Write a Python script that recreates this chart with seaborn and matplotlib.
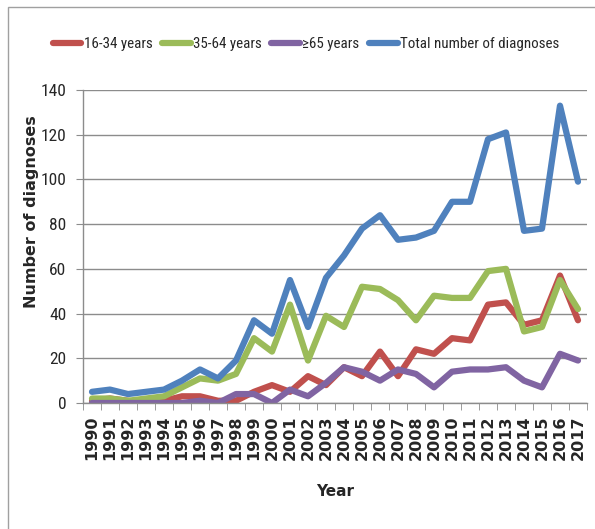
import pandas as pd
import numpy as np
import matplotlib
matplotlib.use("Agg")
import matplotlib.pyplot as plt
import seaborn as sns
from matplotlib.patches import Rectangle

years = list(range(1990, 2018))

age_16_34 = [1, 2, 1, 0, 1, 3, 3, 1, 1, 5, 8, 5, 12, 8, 16, 12, 23, 12, 24, 22, 29, 28, 44, 45, 35, 37, 57, 37]
age_35_64 = [2, 2, 1, 2, 3, 7, 11, 10, 13, 29, 23, 44, 19, 39, 34, 52, 51, 46, 37, 48, 47, 47, 59, 60, 32, 34, 55, 42]
age_65_plus = [0, 0, 0, 0, 0, 0, 1, 0, 4, 4, 0, 6, 3, 9, 16, 14, 10, 15, 13, 7, 14, 15, 15, 16, 10, 7, 22, 19]
total = [5, 6, 4, 5, 6, 10, 15, 11, 19, 37, 31, 55, 34, 56, 66, 78, 84, 73, 74, 77, 90, 90, 118, 121, 77, 78, 133, 99]

series_names = ["16-34 years", "35-64 years", "≥65 years", "Total number of diagnoses"]
colors = ["#C0504D", "#9BBB59", "#8064A2", "#4F81BD"]

frames = []
for name, vals in zip(series_names, [age_16_34, age_35_64, age_65_plus, total]):
    frames.append(pd.DataFrame({"Year": years, "Count": vals, "Series": name}))
data = pd.concat(frames)

sns.set_style("white")
plt.rcParams["font.family"] = ["Roboto Condensed", "PT Sans Narrow", "Archivo Narrow",
                               "Liberation Sans Narrow", "Lato", "DejaVu Sans"]

fig = plt.figure(figsize=(5.95, 5.29), dpi=100)
ax = fig.add_axes([83 / 595, 1 - 403 / 529, 504 / 595, 313 / 529])

sns.lineplot(data=data, x="Year", y="Count", hue="Series", hue_order=series_names,
             palette=colors, linewidth=4.5, ax=ax, legend=True)

ax.set_xlim(1989.5, 2017.5)
ax.set_ylim(0, 140)
ax.set_yticks(range(0, 141, 20))
ax.yaxis.grid(True, color="#8c8c8c", linewidth=1)
ax.set_axisbelow(True)

ax.set_xticks(years)
ax.set_xticklabels([str(y) for y in years], rotation=90, fontsize=11.5,
                   fontweight="bold", family="DejaVu Sans")
ax.set_xticks(np.arange(1989.5, 2018, 1), minor=True)
ax.tick_params(axis="x", which="major", length=0, pad=9)
ax.tick_params(axis="x", which="minor", length=5, color="#8c8c8c", bottom=True)
ax.tick_params(axis="y", length=5, color="#8c8c8c", left=True, labelsize=12.5, pad=7)

for s in ["top", "right"]:
    ax.spines[s].set_visible(False)
for s in ["left", "bottom"]:
    ax.spines[s].set_color("#8c8c8c")
    ax.spines[s].set_linewidth(1)

ax.set_xlabel("Year", fontsize=11, fontweight="bold", family="DejaVu Sans")
ax.xaxis.set_label_coords(0.5, (403 - 484) / 313)
ax.set_ylabel("Number of diagnoses", fontsize=11.5, fontweight="bold", family="DejaVu Sans")
ax.yaxis.set_label_coords((32 - 83) / 504, (403 - 212) / 313)
ax.yaxis.label.set_va("center")

handles, labels = ax.get_legend_handles_labels()
ax.legend(handles, labels, loc="center", bbox_to_anchor=(306 / 595, 1 - 44 / 529),
          bbox_transform=fig.transFigure, ncol=4, frameon=False, fontsize=10.8,
          handlelength=1.9, handletextpad=0.15, columnspacing=0.65)

fig.patches.append(Rectangle((8 / 595, -0.1), 1.0, 1.1 - 7 / 529, transform=fig.transFigure,
                             fill=False, edgecolor="#a0a0a0", linewidth=1))

fig.savefig("out.png", dpi=100)
